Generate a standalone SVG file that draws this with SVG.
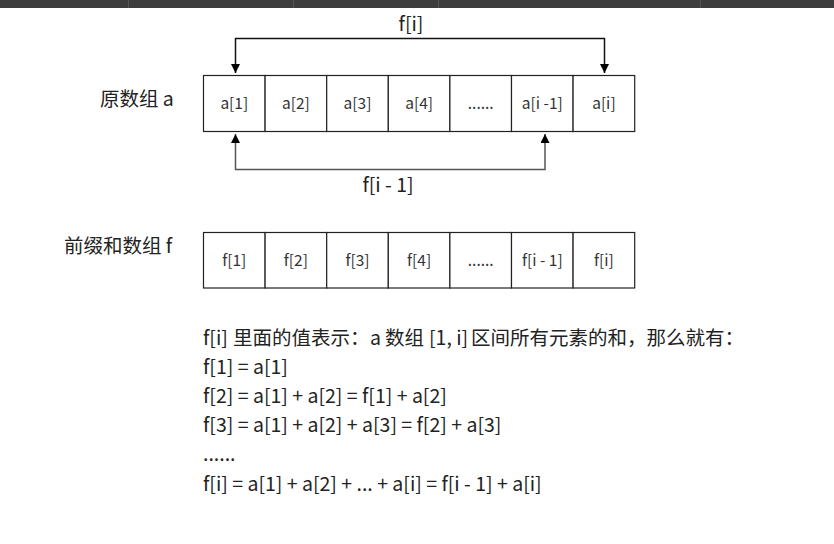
<svg xmlns="http://www.w3.org/2000/svg" width="834" height="544" viewBox="0 0 834 544">
<style>
.cell{fill:#fff;stroke:#222;stroke-width:1.2}
.ct{font-family:"Noto Sans CJK SC","Noto Sans",sans-serif;font-size:15.5px;fill:#333;text-anchor:middle}
.lb{font-family:"Noto Sans CJK SC","Noto Sans",sans-serif;font-size:19.5px;fill:#222}
.tx{font-family:"Noto Sans CJK SC","Noto Sans",sans-serif;font-size:19.5px;fill:#222}
.conn{fill:none;stroke-width:1.5}
</style>
<defs>
<marker id="ah" viewBox="0 0 10 10" refX="10" refY="5" markerWidth="9" markerHeight="9" markerUnits="userSpaceOnUse" orient="auto-start-reverse">
<path d="M0,0 L10,5 L0,10 z" fill="#000"/>
</marker>
</defs>
<rect width="834" height="544" fill="#fff"/>
<g id="toolbar">
<rect x="0" y="0" width="834" height="8" fill="#3d3d3d"/>
<rect x="128" y="0" width="1" height="8" fill="#555"/>
<rect x="293" y="0" width="1" height="8" fill="#555"/>
<rect x="438" y="0" width="1" height="8" fill="#555"/>
<rect x="700" y="0" width="1" height="8" fill="#555"/>
</g>
<g id="label-a"><text class="lb" x="100" y="106">原数组 a</text></g>
<g id="label-f"><text class="lb" x="64" y="253">前缀和数组 f</text></g>
<g id="array-a">
<rect class="cell" x="203.5" y="75.5" width="61.6" height="56"/><text class="ct" x="234.3" y="108.5">a[1]</text>
<rect class="cell" x="265.1" y="75.5" width="61.6" height="56"/><text class="ct" x="295.9" y="108.5">a[2]</text>
<rect class="cell" x="326.7" y="75.5" width="61.6" height="56"/><text class="ct" x="357.5" y="108.5">a[3]</text>
<rect class="cell" x="388.3" y="75.5" width="61.6" height="56"/><text class="ct" x="419.1" y="108.5">a[4]</text>
<rect class="cell" x="449.9" y="75.5" width="61.6" height="56"/><text class="ct" x="480.7" y="108.5">......</text>
<rect class="cell" x="511.5" y="75.5" width="61.6" height="56"/><text class="ct" x="542.3" y="108.5">a[i -1]</text>
<rect class="cell" x="573.1" y="75.5" width="61.6" height="56"/><text class="ct" x="603.9" y="108.5">a[i]</text>
</g>
<g id="array-f">
<rect class="cell" x="203.5" y="232.5" width="61.6" height="55.5"/><text class="ct" x="234.3" y="265.5">f[1]</text>
<rect class="cell" x="265.1" y="232.5" width="61.6" height="55.5"/><text class="ct" x="295.9" y="265.5">f[2]</text>
<rect class="cell" x="326.7" y="232.5" width="61.6" height="55.5"/><text class="ct" x="357.5" y="265.5">f[3]</text>
<rect class="cell" x="388.3" y="232.5" width="61.6" height="55.5"/><text class="ct" x="419.1" y="265.5">f[4]</text>
<rect class="cell" x="449.9" y="232.5" width="61.6" height="55.5"/><text class="ct" x="480.7" y="265.5">......</text>
<rect class="cell" x="511.5" y="232.5" width="61.6" height="55.5"/><text class="ct" x="542.3" y="265.5">f[i - 1]</text>
<rect class="cell" x="573.1" y="232.5" width="61.6" height="55.5"/><text class="ct" x="603.9" y="265.5">f[i]</text>
</g>
<g id="connectors">
<path class="conn" stroke="#111" d="M235.5,73 V38.5 H604.5 V73" marker-start="url(#ah)" marker-end="url(#ah)"/>
<path class="conn" stroke="#555" d="M235.5,134 V169.5 H545 V134" marker-start="url(#ah)" marker-end="url(#ah)"/>
<text class="tx" x="411" y="31" text-anchor="middle">f[i]</text>
<text class="tx" x="388" y="192" text-anchor="middle">f[i - 1]</text>
</g>
<g id="formulas">
<text class="tx" y="345"><tspan x="203">f[i]</tspan><tspan x="233">里面的值表示：</tspan><tspan x="370">a</tspan><tspan x="385">数组</tspan><tspan x="429">[1, i]</tspan><tspan x="471">区间所有元素的和，那么就有：</tspan></text>
<text class="tx" x="203" y="374">f[1] = a[1]</text>
<text class="tx" x="203" y="403">f[2] = a[1] + a[2] = f[1] + a[2]</text>
<text class="tx" x="203" y="432">f[3] = a[1] + a[2] + a[3] = f[2] + a[3]</text>
<text class="tx" x="203" y="461">......</text>
<text class="tx" x="203" y="491">f[i] = a[1] + a[2] + ... + a[i] = f[i - 1] + a[i]</text>
</g>
</svg>
